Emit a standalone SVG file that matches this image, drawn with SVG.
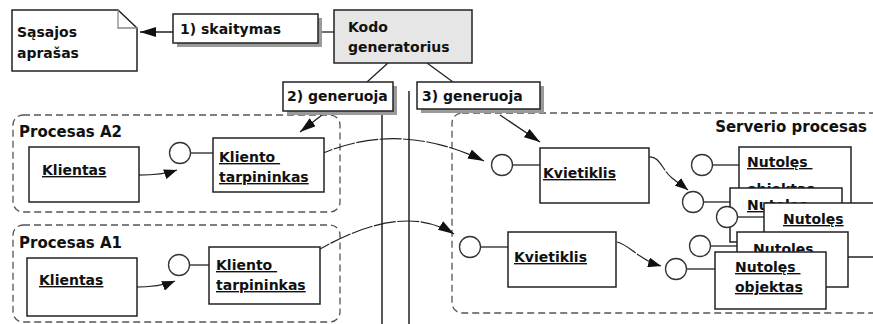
<svg xmlns="http://www.w3.org/2000/svg" width="873" height="324" viewBox="0 0 873 324">
  <style>
    text { font-family: "DejaVu Sans", "Liberation Sans", sans-serif; font-weight: bold; font-size: 14px; fill: #111; }
    .grp { font-size: 15px; }
    .u { text-decoration: underline; }
    .box { fill: #fff; stroke: #222; stroke-width: 1.5; }
    .shadow { fill: #9a9a9a; stroke: none; }
    .cont { fill: none; stroke: #555; stroke-width: 1.3; stroke-dasharray: 7 4; }
    .lolli { fill: #fff; stroke: #333; stroke-width: 1.3; }
    .wire { fill: none; stroke: #222; stroke-width: 1.3; }
    .flow { fill: none; stroke: #222; stroke-width: 1.2; stroke-dasharray: 22 1.5; }
    .bar { stroke: #222; stroke-width: 1.5; }
  </style>
  <defs>
    <marker id="arrow" markerUnits="userSpaceOnUse" markerWidth="16" markerHeight="10" refX="16" refY="5" orient="auto">
      <path d="M0,0 L16,5 L0,10 z" fill="#111"/>
    </marker>
    <marker id="arrowS" markerUnits="userSpaceOnUse" markerWidth="13" markerHeight="10" refX="13" refY="5" orient="auto">
      <path d="M0,0 L13,5 L0,10 z" fill="#111"/>
    </marker>
  </defs>

  <!-- process containers -->
  <g id="procesas-a2">
    <rect class="cont" x="13" y="115" width="327" height="97" rx="10"/>
    <text class="grp" x="19" y="137">Procesas A2</text>
  </g>
  <g id="procesas-a1">
    <rect class="cont" x="13" y="225" width="327" height="97" rx="10"/>
    <text class="grp" x="19" y="248">Procesas A1</text>
  </g>
  <g id="serverio-procesas">
    <rect class="cont" x="452" y="113" width="440" height="200" rx="10"/>
    <text class="grp" x="867" y="132" text-anchor="end">Serverio procesas</text>
  </g>

  <!-- vertical separators -->
  <g id="separators">
    <line class="bar" x1="382" y1="110" x2="382" y2="324"/>
    <line class="bar" x1="409" y1="91" x2="409" y2="324"/>
  </g>

  <!-- connectors -->
  <g id="connectors">
    <line class="wire" x1="318" y1="32" x2="334" y2="32"/>
    <line class="wire" x1="173" y1="32" x2="140" y2="32" marker-end="url(#arrow)"/>
    <line class="wire" x1="388" y1="63" x2="367" y2="82"/>
    <line class="wire" x1="427" y1="63" x2="453" y2="82"/>
    <line class="wire" x1="322" y1="115" x2="300" y2="132" marker-end="url(#arrow)"/>
    <line class="wire" x1="500" y1="115" x2="540" y2="142" marker-end="url(#arrow)"/>
    <path class="wire" d="M130,175 Q160,176 177,170" marker-end="url(#arrowS)"/>
    <path class="wire" d="M125,287 Q158,288 175,281" marker-end="url(#arrowS)"/>
    <path class="flow" d="M312,158 Q395,118 484,161" marker-end="url(#arrow)"/>
    <path class="flow" d="M310,255 Q400,200 454,234" marker-end="url(#arrow)"/>
    <path class="flow" d="M649,157 C660,156 662,170 672,178 S683,186 688,190" marker-end="url(#arrowS)"/>
    <path class="flow" d="M617,242 C630,245 637,259 661,266" marker-end="url(#arrowS)"/>
  </g>

  <!-- interface description note -->
  <g id="sasajos-aprasas">
    <path class="box" d="M12,10 L118,10 L137,28 L137,71 L12,71 z"/>
    <polyline points="118,10 118,28 137,28" fill="none" stroke="#888" stroke-width="1.3"/>
    <text x="17" y="37">Sąsajos</text>
    <text x="17" y="58">aprašas</text>
  </g>

  <g id="skaitymas">
    <rect class="shadow" x="177" y="18" width="145" height="29"/>
    <rect class="box" x="173" y="14" width="145" height="29"/>
    <text x="180" y="34">1) skaitymas</text>
  </g>

  <g id="kodo-generatorius">
    <rect x="334" y="10" width="138" height="53" fill="#e6e6e6" stroke="#222" stroke-width="1.5"/>
    <text x="348" y="32">Kodo</text>
    <text x="348" y="52">generatorius</text>
  </g>

  <g id="generuoja-2">
    <rect class="shadow" x="287" y="86" width="110" height="29"/>
    <rect class="box" x="283" y="82" width="110" height="29"/>
    <text x="287" y="101">2) generuoja</text>
  </g>

  <g id="generuoja-3">
    <rect class="shadow" x="421" y="86" width="123" height="27"/>
    <rect class="box" x="417" y="82" width="123" height="27"/>
    <text x="422" y="101">3) generuoja</text>
  </g>

  <!-- client process A2 -->
  <g id="klientas-a2">
    <rect class="box" x="29" y="147" width="110" height="55"/>
    <text class="u" x="42" y="175">Klientas</text>
  </g>
  <g id="kliento-tarpininkas-a2">
    <line class="wire" x1="190" y1="153" x2="213" y2="153"/>
    <circle class="lolli" cx="180" cy="153" r="10.5"/>
    <rect class="box" x="213" y="138" width="111" height="54"/>
    <text class="u" x="219" y="162" xml:space="preserve">Kliento </text>
    <text class="u" x="219" y="182">tarpininkas</text>
  </g>

  <!-- client process A1 -->
  <g id="klientas-a1">
    <rect class="box" x="27" y="258" width="110" height="58"/>
    <text class="u" x="39" y="285">Klientas</text>
  </g>
  <g id="kliento-tarpininkas-a1">
    <line class="wire" x1="189" y1="265" x2="209" y2="265"/>
    <circle class="lolli" cx="179" cy="265" r="10.5"/>
    <rect class="box" x="209" y="247" width="111" height="57"/>
    <text class="u" x="216" y="270" xml:space="preserve">Kliento </text>
    <text class="u" x="216" y="290">tarpininkas</text>
  </g>

  <!-- server side -->
  <g id="kvietiklis-1">
    <line class="wire" x1="512" y1="165" x2="540" y2="165"/>
    <circle class="lolli" cx="502" cy="165" r="10.5"/>
    <rect class="box" x="540" y="148" width="109" height="55"/>
    <text class="u" x="543" y="178">Kvietiklis</text>
  </g>
  <g id="kvietiklis-2">
    <line class="wire" x1="480" y1="247" x2="508" y2="247"/>
    <circle class="lolli" cx="470" cy="247" r="10.5"/>
    <rect class="box" x="508" y="232" width="108" height="55"/>
    <text class="u" x="514" y="262">Kvietiklis</text>
  </g>

  <g id="nutoles-1">
    <line class="wire" x1="712" y1="165" x2="739" y2="165"/>
    <circle class="lolli" cx="702" cy="165" r="10.5"/>
    <rect class="box" x="739" y="147" width="112" height="60"/>
    <text class="u" x="747" y="167" xml:space="preserve">Nutolęs </text>
    <text class="u" x="747" y="194">objektas</text>
  </g>
  <g id="nutoles-2">
    <line class="wire" x1="703" y1="202" x2="730" y2="202"/>
    <circle class="lolli" cx="693" cy="202" r="10.5"/>
    <rect class="box" x="730" y="188" width="112" height="54"/>
    <text class="u" x="747" y="210" xml:space="preserve">Nutolęs </text>
  </g>
  <g id="nutoles-3">
    <line class="wire" x1="737" y1="217" x2="764" y2="217"/>
    <circle class="lolli" cx="727" cy="217" r="10.5"/>
    <rect class="box" x="764" y="203" width="130" height="54"/>
    <text class="u" x="783" y="224">Nutolęs</text>
  </g>
  <g id="nutoles-4">
    <line class="wire" x1="710" y1="246" x2="737" y2="246"/>
    <circle class="lolli" cx="700" cy="246" r="10.5"/>
    <rect class="box" x="737" y="232" width="111" height="55"/>
    <text class="u" x="753" y="254">Nutolęs</text>
  </g>
  <g id="nutoles-5">
    <line class="wire" x1="686" y1="269" x2="715" y2="269"/>
    <circle class="lolli" cx="676" cy="269" r="10.5"/>
    <rect class="box" x="715" y="252" width="111" height="57"/>
    <text class="u" x="735" y="272" xml:space="preserve">Nutolęs </text>
    <text class="u" x="735" y="292">objektas</text>
  </g>
</svg>
